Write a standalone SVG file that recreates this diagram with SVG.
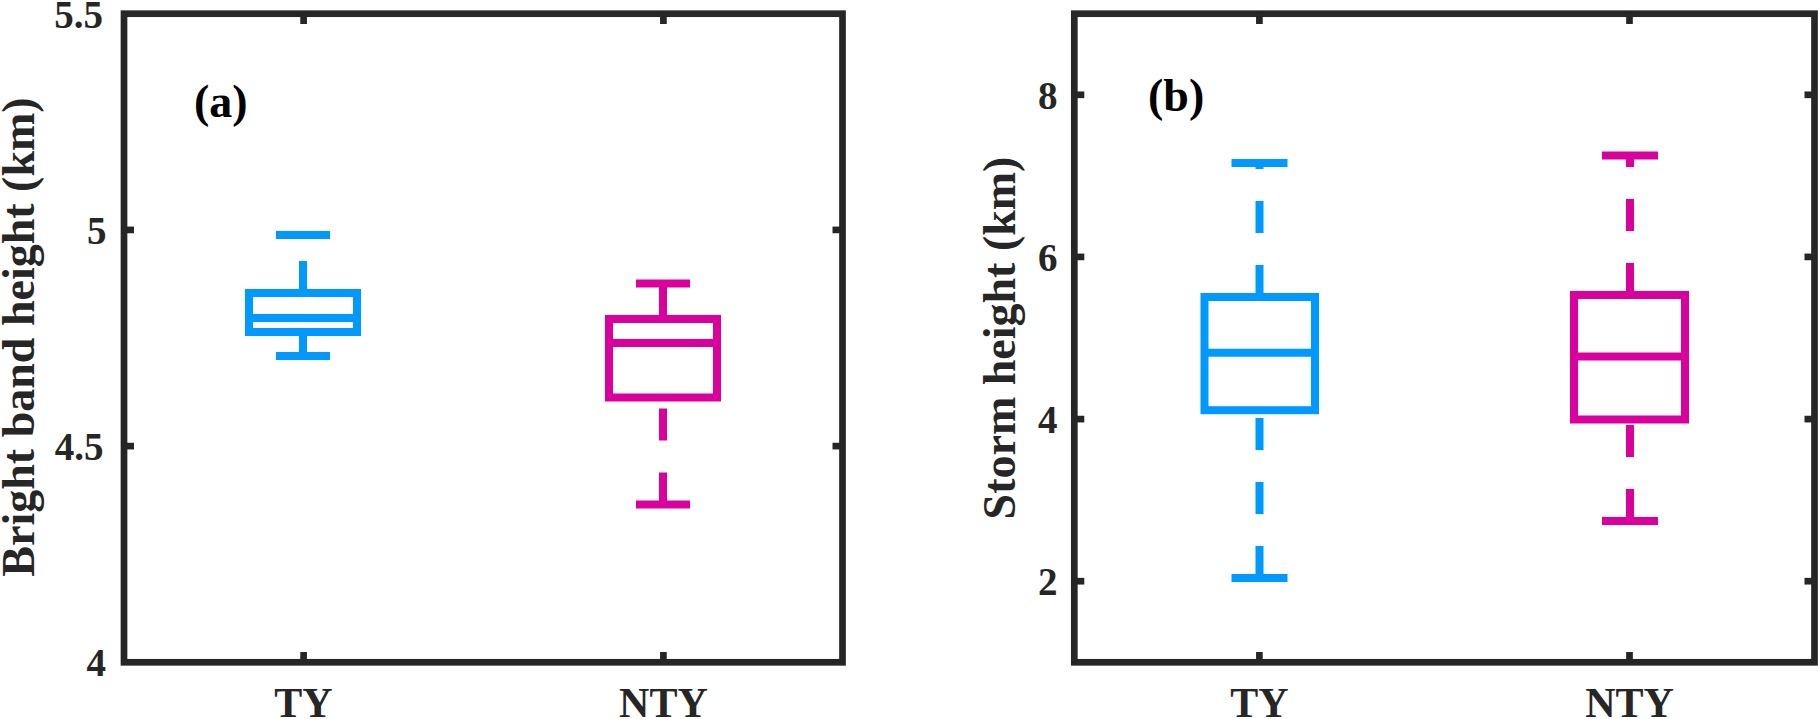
<svg xmlns="http://www.w3.org/2000/svg" width="1818" height="719" viewBox="0 0 1818 719">
<style>
.ax{fill:none;stroke:#262626;stroke-width:6.7}
.tk{stroke:#262626;stroke-width:6.7}
.tl{font-family:"Liberation Serif","Times New Roman",serif;font-weight:bold;font-size:39px;fill:#262626;text-anchor:end}
.xl{font-family:"Liberation Serif","Times New Roman",serif;font-weight:bold;font-size:42px;fill:#262626;text-anchor:middle}
.yl{font-family:"Liberation Serif","Times New Roman",serif;font-weight:bold;font-size:46px;fill:#262626;text-anchor:middle}
.pl{font-family:"Liberation Serif","Times New Roman",serif;font-weight:bold;font-size:46px;fill:#000}
.b{fill:none;stroke-width:8}
.ln{stroke-width:8;fill:none}
.wh{stroke-width:8;stroke-dasharray:32 32;fill:none}
.blue{stroke:#0099FF}
.mag{stroke:#D9009E}
</style>
<rect width="1818" height="719" fill="#fff"/>

<g id="panel-a">
  <rect class="ax" x="124" y="13.7" width="718.5" height="648.6"/>
  <g id="ticks-a">
    <line class="tk" x1="124" y1="229.9" x2="134" y2="229.9"/>
    <line class="tk" x1="124" y1="446.1" x2="134" y2="446.1"/>
    <line class="tk" x1="842.5" y1="229.9" x2="832.5" y2="229.9"/>
    <line class="tk" x1="842.5" y1="446.1" x2="832.5" y2="446.1"/>
    <line class="tk" x1="303.6" y1="662.3" x2="303.6" y2="652"/>
    <line class="tk" x1="663.4" y1="662.3" x2="663.4" y2="652"/>
    <line class="tk" x1="303.6" y1="13.7" x2="303.6" y2="24"/>
    <line class="tk" x1="663.4" y1="13.7" x2="663.4" y2="24"/>
  </g>
  <text class="tl" x="103" y="27.5">5.5</text>
  <text class="tl" x="106.5" y="243.7">5</text>
  <text class="tl" x="103.5" y="459.9">4.5</text>
  <text class="tl" x="106" y="676.1">4</text>
  <text class="xl" x="303.5" y="717">TY</text>
  <text class="xl" x="663.4" y="717">NTY</text>
  <text class="yl" transform="translate(33.5,337) rotate(-90)">Bright band height (km)</text>
  <text class="pl" x="194" y="117">(a)</text>
</g>

<g id="box-a-ty">
  <line class="wh blue" x1="303" y1="356" x2="303" y2="332"/>
  <line class="wh blue" x1="303" y1="293" x2="303" y2="235"/>
  <line class="ln blue" x1="276" y1="356" x2="330" y2="356"/>
  <line class="ln blue" x1="276" y1="235" x2="330" y2="235"/>
  <rect class="b blue" x="249" y="293" width="108" height="39"/>
  <line class="ln blue" x1="249" y1="318" x2="357" y2="318"/>
</g>

<g id="box-a-nty">
  <line class="wh mag" x1="663" y1="504.5" x2="663" y2="397.5"/>
  <line class="wh mag" x1="663" y1="319" x2="663" y2="283.5"/>
  <line class="ln mag" x1="636" y1="504.5" x2="690" y2="504.5"/>
  <line class="ln mag" x1="636" y1="283.5" x2="690" y2="283.5"/>
  <rect class="b mag" x="609" y="319" width="108" height="78.5"/>
  <line class="ln mag" x1="609" y1="343" x2="717" y2="343"/>
</g>

<g id="panel-b">
  <rect class="ax" x="1074.3" y="13.7" width="740.2" height="648.6"/>
  <g id="ticks-b">
    <line class="tk" x1="1074.3" y1="581.2" x2="1084.3" y2="581.2"/>
    <line class="tk" x1="1074.3" y1="419.1" x2="1084.3" y2="419.1"/>
    <line class="tk" x1="1074.3" y1="256.9" x2="1084.3" y2="256.9"/>
    <line class="tk" x1="1074.3" y1="94.8" x2="1084.3" y2="94.8"/>
    <line class="tk" x1="1814.5" y1="581.2" x2="1804.5" y2="581.2"/>
    <line class="tk" x1="1814.5" y1="419.1" x2="1804.5" y2="419.1"/>
    <line class="tk" x1="1814.5" y1="256.9" x2="1804.5" y2="256.9"/>
    <line class="tk" x1="1814.5" y1="94.8" x2="1804.5" y2="94.8"/>
    <line class="tk" x1="1259.4" y1="662.3" x2="1259.4" y2="652"/>
    <line class="tk" x1="1629.5" y1="662.3" x2="1629.5" y2="652"/>
    <line class="tk" x1="1259.4" y1="13.7" x2="1259.4" y2="24"/>
    <line class="tk" x1="1629.5" y1="13.7" x2="1629.5" y2="24"/>
  </g>
  <text class="tl" x="1057.5" y="595">2</text>
  <text class="tl" x="1057.5" y="432.9">4</text>
  <text class="tl" x="1057.5" y="270.7">6</text>
  <text class="tl" x="1057.5" y="108.6">8</text>
  <text class="xl" x="1259.4" y="717">TY</text>
  <text class="xl" x="1629.5" y="717">NTY</text>
  <text class="yl" transform="translate(1015,338) rotate(-90)">Storm height (km)</text>
  <text class="pl" x="1148" y="111.3">(b)</text>
</g>

<g id="box-b-ty">
  <line class="wh blue" x1="1259.5" y1="578" x2="1259.5" y2="410.2"/>
  <line class="wh blue" x1="1259.5" y1="297" x2="1259.5" y2="163"/>
  <line class="ln blue" x1="1231.5" y1="578" x2="1287.5" y2="578"/>
  <line class="ln blue" x1="1231.5" y1="163" x2="1287.5" y2="163"/>
  <rect class="b blue" x="1204.5" y="297" width="110.5" height="113.2"/>
  <line class="ln blue" x1="1204.5" y1="352.8" x2="1315" y2="352.8"/>
</g>

<g id="box-b-nty">
  <line class="wh mag" x1="1630" y1="521" x2="1630" y2="419.5"/>
  <line class="wh mag" x1="1630" y1="295" x2="1630" y2="155.5"/>
  <line class="ln mag" x1="1602" y1="521" x2="1658" y2="521"/>
  <line class="ln mag" x1="1602" y1="155.5" x2="1658" y2="155.5"/>
  <rect class="b mag" x="1574" y="295" width="111" height="124.5"/>
  <line class="ln mag" x1="1574" y1="356.5" x2="1685" y2="356.5"/>
</g>
</svg>
